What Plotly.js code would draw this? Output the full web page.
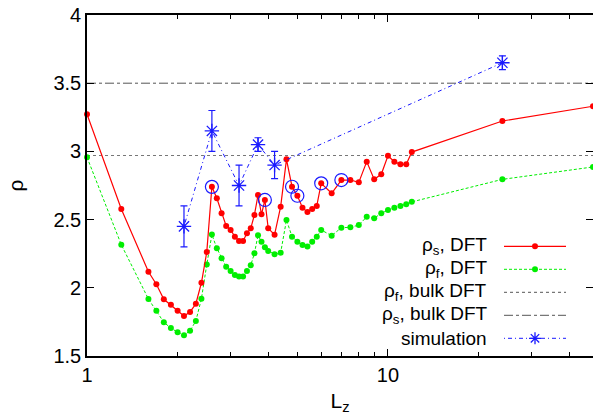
<!DOCTYPE html>
<html>
<head>
<meta charset="utf-8">
<script src="https://cdn.plot.ly/plotly-3.0.1.min.js"></script>
<style>
html,body{margin:0;padding:0;background:#fff;}
#chart{width:593px;height:420px;}
</style>
</head>
<body>
<div id="chart"></div>
<script>
// ---- data ----
var Lz = [1.0, 1.3, 1.6, 1.7, 1.8, 1.9, 2.0, 2.1, 2.2, 2.3, 2.4, 2.5, 2.6, 2.7, 2.8, 2.9, 3.0, 3.1, 3.2, 3.3, 3.4, 3.5, 3.6, 3.7, 3.8, 3.9, 4.0, 4.2, 4.4, 4.6, 4.8, 5.0, 5.2, 5.4, 5.6, 5.8, 6.0, 6.5, 7.0, 7.5, 8.0, 8.5, 9.0, 9.5, 10.0, 10.5, 11.0, 11.5, 12.0, 24.0, 48.0];
var rhoS = [3.272, 2.578, 2.118, 2.026, 1.916, 1.876, 1.832, 1.793, 1.823, 1.883, 2.037, 2.262, 2.740, 2.656, 2.546, 2.453, 2.424, 2.375, 2.343, 2.343, 2.400, 2.436, 2.534, 2.680, 2.539, 2.644, 2.436, 2.389, 2.595, 2.942, 2.741, 2.675, 2.587, 2.555, 2.578, 2.600, 2.766, 2.693, 2.790, 2.790, 2.773, 2.925, 2.795, 2.832, 2.968, 2.925, 2.905, 2.905, 2.995, 3.223, 3.331];
var rhoF = [2.957, 2.316, 1.918, 1.832, 1.747, 1.705, 1.674, 1.652, 1.685, 1.757, 1.920, 2.170, 2.390, 2.290, 2.216, 2.155, 2.123, 2.094, 2.082, 2.082, 2.123, 2.165, 2.253, 2.385, 2.338, 2.297, 2.270, 2.246, 2.257, 2.497, 2.375, 2.338, 2.314, 2.303, 2.338, 2.375, 2.424, 2.382, 2.441, 2.443, 2.460, 2.520, 2.510, 2.546, 2.570, 2.587, 2.600, 2.612, 2.630, 2.795, 2.886];
var circledL = [2.6, 3.9, 4.8, 5.0, 6.0, 7.0];
var circledRho = [2.740, 2.644, 2.741, 2.675, 2.766, 2.790];
var simL = [2.1, 2.6, 3.2, 3.7, 4.2, 24.0];
var simRho = [2.45, 3.15, 2.75, 3.05, 2.90, 3.65];
var simErr = [0.15, 0.15, 0.15, 0.05, 0.10, 0.05];
var bulkL = [1.0, 48.0];
var bulkRhoF = [2.97, 2.97];
var bulkRhoS = [3.5, 3.5];
var xTickVals = [1, 10];
var xTickText = ['1', '10'];
var xMinorVals = [2, 3, 4, 5, 6, 7, 8, 9, 20, 30, 40];
var legendLabels = ['ρ<sub>s</sub>, DFT', 'ρ<sub>f</sub>, DFT', 'ρ<sub>f</sub>, bulk DFT', 'ρ<sub>s</sub>, bulk DFT', 'simulation'];

// ---- styles ----
var RED = '#ff0000', GREEN = '#00ee00', BLUE = '#1a1aff', GREY = '#777777', DGREY = '#555555';
var FONT = 'Liberation Sans, Arial, sans-serif';

var traces = [
  {x: bulkL, y: bulkRhoS, mode: 'lines', line: {color: DGREY, width: 1, dash: 'dashdot'}, hoverinfo: 'skip'},
  {x: bulkL, y: bulkRhoF, mode: 'lines', line: {color: GREY, width: 1.2, dash: 'dot'}, hoverinfo: 'skip'},
  {x: Lz, y: rhoF, mode: 'lines+markers', line: {color: GREEN, width: 1, dash: '3px,2px'},
   marker: {color: GREEN, size: 6}, cliponaxis: false},
  {x: Lz, y: rhoS, mode: 'lines+markers', line: {color: RED, width: 1.2},
   marker: {color: RED, size: 6}, cliponaxis: false},
  {x: simL, y: simRho, mode: 'lines+markers', line: {color: BLUE, width: 1, dash: '1px,3px,4px,3px'},
   marker: {symbol: 'asterisk-open', size: 12, color: BLUE, line: {color: BLUE, width: 1.3}},
   error_y: {type: 'data', array: simErr, visible: true, color: BLUE, thickness: 1.2, width: 3.5}, cliponaxis: false},
  {x: circledL, y: circledRho, mode: 'markers',
   marker: {symbol: 'circle-open', size: 13, color: BLUE, line: {color: BLUE, width: 1.2}}, cliponaxis: false}
];

// ---- custom gnuplot-style key (text right, sample left) ----
var L0 = 87, PW = 506, T0 = 15, PH = 341;
function px(xp){ return (xp - L0) / PW; }
function py(yp){ return (T0 + PH - yp) / PH; }
var rowY = [246.3, 269.3, 292.3, 315.3, 338.3];
var sampleStyle = [
  {color: RED, dash: 'solid', width: 1.2},
  {color: GREEN, dash: '3px,2px', width: 1},
  {color: GREY, dash: 'dot', width: 1.2},
  {color: DGREY, dash: 'dashdot', width: 1},
  {color: BLUE, dash: '1px,3px,4px,3px', width: 1}
];
var annotations = [], shapes = [];
for (var i = 0; i < legendLabels.length; i++) {
  annotations.push({xref: 'paper', yref: 'paper', x: px(489), y: py(rowY[i]), xanchor: 'right', yanchor: 'middle',
    text: legendLabels[i], showarrow: false, font: {family: FONT, size: 19, color: '#000'}});
  shapes.push({type: 'line', xref: 'paper', yref: 'paper', x0: px(504), x1: px(566), y0: py(rowY[i]), y1: py(rowY[i]),
    line: sampleStyle[i]});
}
[0, 1].forEach(function(i){
  var c = i === 0 ? RED : GREEN;
  shapes.push({type: 'circle', xref: 'paper', yref: 'paper', xsizemode: 'pixel', ysizemode: 'pixel',
    xanchor: px(535), yanchor: py(rowY[i]), x0: -3, x1: 3, y0: -3, y1: 3,
    fillcolor: c, line: {color: c, width: 0}});
});
shapes.push({type: 'path', xref: 'paper', yref: 'paper', xsizemode: 'pixel', ysizemode: 'pixel',
  xanchor: px(535), yanchor: py(rowY[4]),
  path: 'M-6,0L6,0M0,-6L0,6M-4.2,-4.2L4.2,4.2M-4.2,4.2L4.2,-4.2', line: {color: BLUE, width: 1.3}});

var layout = {
  width: 593, height: 420,
  margin: {l: 87, r: 0, t: 15, b: 64, pad: 0},
  paper_bgcolor: '#fff', plot_bgcolor: '#fff',
  showlegend: false,
  font: {family: FONT, size: 20, color: '#000'},
  xaxis: {
    type: 'log', range: [0, Math.log10(48)],
    tickmode: 'array', tickvals: xTickVals, ticktext: xTickText,
    ticks: 'inside', ticklen: 7, tickwidth: 1, tickcolor: '#000',
    minor: {tickmode: 'array', tickvals: xMinorVals, ticks: 'inside', ticklen: 4, tickwidth: 1, tickcolor: '#000', showgrid: false},
    showline: true, linecolor: '#000', linewidth: 1.8, mirror: 'ticks',
    showgrid: false, zeroline: false,
    tickfont: {family: FONT, size: 20, color: '#000'},
    title: {text: 'L<sub>z</sub>', font: {family: FONT, size: 21, color: '#000'}, standoff: 8}
  },
  yaxis: {
    range: [1.5, 4], tickmode: 'linear', tick0: 1.5, dtick: 0.5,
    ticks: 'inside', ticklen: 7, tickwidth: 1, tickcolor: '#000',
    showline: true, linecolor: '#000', linewidth: 1.8, mirror: 'ticks',
    showgrid: false, zeroline: false,
    tickfont: {family: FONT, size: 20, color: '#000'},
    title: {text: 'ρ', font: {family: FONT, size: 21, color: '#000'}, standoff: 24}
  },
  annotations: annotations,
  shapes: shapes
};

Plotly.newPlot('chart', traces, layout, {displayModeBar: false, staticPlot: true});
</script>
</body>
</html>
